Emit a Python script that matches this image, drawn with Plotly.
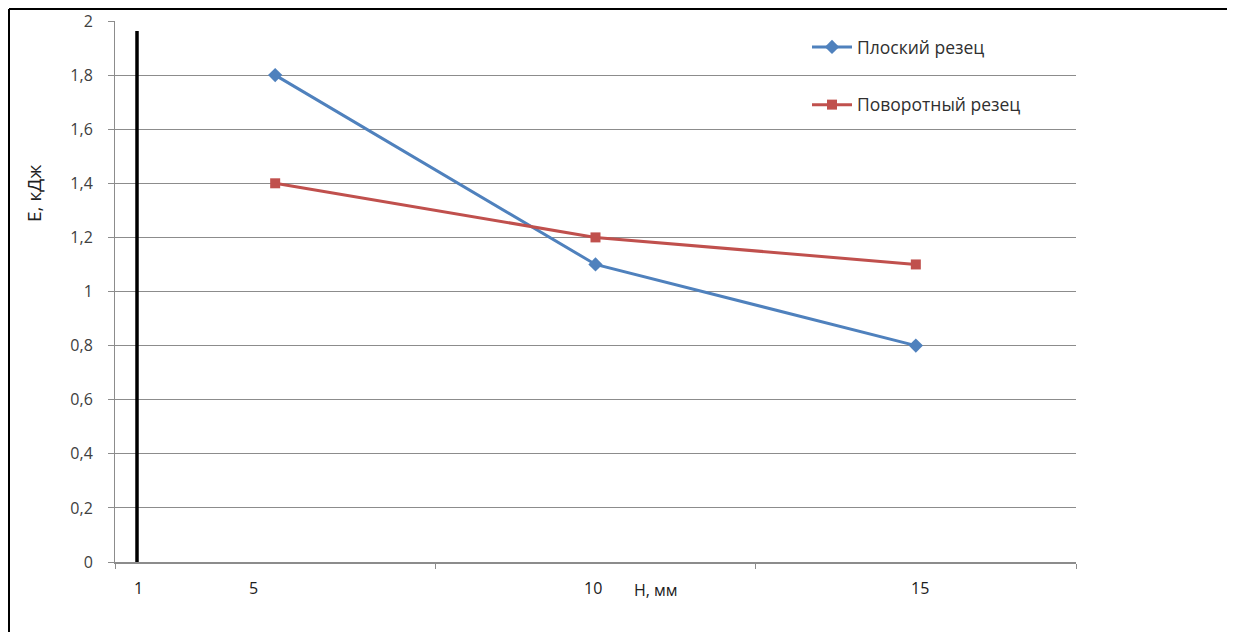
import plotly.graph_objects as go

# ---- data ----
categories = ["5", "10", "15"]
flat_cutter = [1.8, 1.1, 0.8]
rotary_cutter = [1.4, 1.2, 1.1]
series_names = ["Плоский резец", "Поворотный резец"]
x_tick_labels = ["1", "5", "10", "15"]
x_title = "Н, мм"
y_title = "Е, кДж"
y_ticks = [0, 0.2, 0.4, 0.6, 0.8, 1, 1.2, 1.4, 1.6, 1.8, 2]

BLUE = "#4F81BD"
RED = "#C0504D"
FONT = "Open Sans"
TXT = "#404040"

OFF = 8                      # page body margin in the browser
W, H = 1235 - OFF, 632 - OFF
L, R, T, B = 115, 1076, 21, 562  # plot area edges in page pixels


def px_to_paper_x(px):
    return (px - L) / (R - L)


def px_to_paper_y(py):
    return (B - py) / (B - T)


fig = go.Figure()
fig.add_trace(go.Scatter(
    x=categories, y=flat_cutter, name=series_names[0], mode="lines+markers",
    line=dict(color=BLUE, width=3),
    marker=dict(symbol="diamond", size=11, color=BLUE),
    legendgroup="a",
))
fig.add_trace(go.Scatter(
    x=categories, y=rotary_cutter, name=series_names[1], mode="lines+markers",
    line=dict(color=RED, width=3),
    marker=dict(symbol="square", size=10, color=RED),
    legendgroup="b",
))

fig.update_layout(
    width=W, height=H, autosize=False,
    margin=dict(l=L - OFF, r=W - (R - OFF), t=T - OFF, b=H - (B - OFF), pad=0,
                autoexpand=False),
    paper_bgcolor="white", plot_bgcolor="white",
    separators=", ",
    font=dict(family=FONT, color=TXT, size=14),
    showlegend=True,
    legend=dict(
        x=px_to_paper_x(807), y=px_to_paper_y(29), xanchor="left", yanchor="top",
        bgcolor="rgba(0,0,0,0)", font=dict(family=FONT, size=17.5, color="#303030"),
        tracegroupgap=32, traceorder="grouped", itemwidth=40,
    ),
    xaxis=dict(
        type="category", range=[-0.5, 2.5], tickson="boundaries",
        showgrid=False, showline=True, linecolor="#8c8c8c", linewidth=1.5,
        ticks="outside", ticklen=5, tickcolor="#8c8c8c",
        showticklabels=False, zeroline=False, fixedrange=True, automargin=False,
    ),
    yaxis=dict(
        range=[0, 2], tickvals=y_ticks, showgrid=True, gridcolor="#8c8c8c",
        gridwidth=1, showline=True, linecolor="#8c8c8c", linewidth=1,
        ticks="outside", ticklen=6, tickcolor="#8c8c8c",
        ticklabelstandoff=12, zeroline=False, automargin=False,
        tickfont=dict(family=FONT, size=16, color=TXT),
    ),
)

# x tick labels (placed as in the original picture)
x_label_px = [138, 253, 593, 920]
annotations = []
for lbl, px in zip(x_tick_labels, x_label_px):
    annotations.append(dict(
        text=lbl, xref="paper", yref="paper", x=px_to_paper_x(px), y=px_to_paper_y(588),
        xanchor="center", yanchor="middle", showarrow=False,
        font=dict(family=FONT, size=16, color="#202020"),
    ))
annotations.append(dict(
    text=x_title, xref="paper", yref="paper", x=px_to_paper_x(656), y=px_to_paper_y(590),
    xanchor="center", yanchor="middle", showarrow=False,
    font=dict(family=FONT, size=16, color="#202020"),
))
annotations.append(dict(
    text=y_title, xref="paper", yref="paper", x=px_to_paper_x(34), y=px_to_paper_y(194),
    xanchor="center", yanchor="middle", showarrow=False, textangle=-90,
    font=dict(family=FONT, size=19, color="#202020"),
))
fig.update_layout(annotations=annotations)

shapes = [
    # thick black vertical line
    dict(type="line", xref="paper", yref="paper",
         x0=px_to_paper_x(137), x1=px_to_paper_x(137),
         y0=0, y1=px_to_paper_y(31), line=dict(color="black", width=3.5)),
    # outer frame: left and top
    dict(type="line", xref="paper", yref="paper",
         x0=px_to_paper_x(OFF + 1), x1=px_to_paper_x(OFF + 1),
         y0=px_to_paper_y(640), y1=px_to_paper_y(OFF + 1), line=dict(color="black", width=2)),
    dict(type="line", xref="paper", yref="paper",
         x0=px_to_paper_x(OFF + 1), x1=px_to_paper_x(1240),
         y0=px_to_paper_y(OFF + 1), y1=px_to_paper_y(OFF + 1), line=dict(color="black", width=2)),
]
fig.update_layout(shapes=shapes)

fig.write_html("out.html")
